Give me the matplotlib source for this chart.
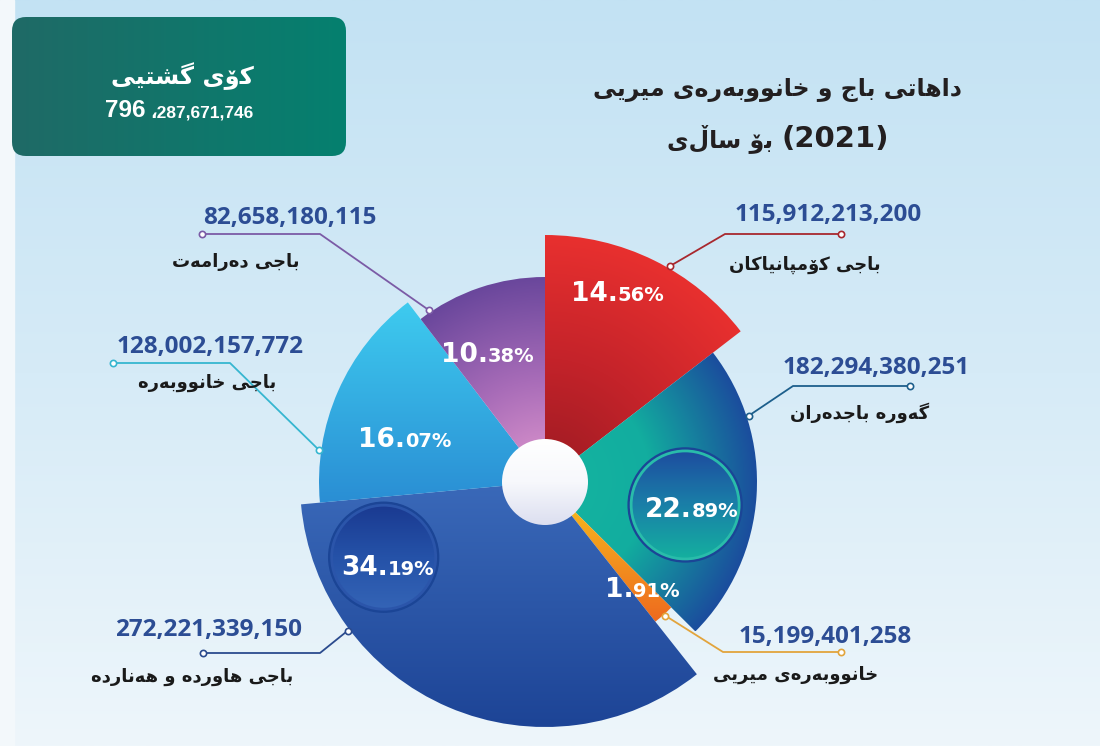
import numpy as np
import matplotlib
matplotlib.use("Agg")
import matplotlib.pyplot as plt
from matplotlib.colors import LinearSegmentedColormap
from matplotlib.patches import FancyBboxPatch, Circle, Rectangle

W, H = 1100, 746

# slices, clockwise from 12 o'clock
names = ["باجی کۆمپانیاکان", "گەورە باجدەران", "خانووبەرەی میریی",
         "باجی هاوردە و هەناردە", "باجی خانووبەرە", "باجی دەرامەت"]
values = [115912213200, 182294380251, 15199401258,
          272221339150, 128002157772, 82658180115]
title_lines = ["داهاتی باج و خانووبەرەی میریی", "بۆ ساڵی", "(2021)"]
total_title = "کۆی گشتیی"

total = sum(values)
percents = [v / total * 100 for v in values]

# --- minimal arabic shaping (matplotlib draws glyphs left to right, unjoined)
# isolated, final, initial, medial ; None -> letter never joins the next one
FORMS = {
    "ا": ("\uFE8D", "\uFE8E", None, None),
    "ب": ("\uFE8F", "\uFE90", "\uFE91", "\uFE92"),
    "پ": ("\uFB56", "\uFB57", "\uFB58", "\uFB59"),
    "ت": ("\uFE95", "\uFE96", "\uFE97", "\uFE98"),
    "ج": ("\uFE9D", "\uFE9E", "\uFE9F", "\uFEA0"),
    "خ": ("\uFEA5", "\uFEA6", "\uFEA7", "\uFEA8"),
    "د": ("\uFEA9", "\uFEAA", None, None),
    "ر": ("\uFEAD", "\uFEAE", None, None),
    "س": ("\uFEB1", "\uFEB2", "\uFEB3", "\uFEB4"),
    "ش": ("\uFEB5", "\uFEB6", "\uFEB7", "\uFEB8"),
    "ک": ("\u06A9", "\u06A9", "\uFEDB", "\uFEDC"),
    "گ": ("\u06AF", "\u06AF", "\uFB94", "\uFB95"),
    "م": ("\uFEE1", "\uFEE2", "\uFEE3", "\uFEE4"),
    "ن": ("\uFEE5", "\uFEE6", "\uFEE7", "\uFEE8"),
    "ه": ("\uFEE9", "\uFEEA", "\uFEEB", "\uFEEC"),
    "و": ("\uFEED", "\uFEEE", None, None),
    "ۆ": ("\u06C6", "\u06C6", None, None),
    "ە": ("\u06D5", "\uFEEA", None, None),
    "ی": ("\uFEEF", "\uFEF0", "\uFEF3", "\uFEF4"),
}


def shape_word(word):
    out = []
    for i, ch in enumerate(word):
        forms = FORMS.get(ch)
        if forms is None:
            out.append(ch)
            continue
        prev = word[i - 1] if i > 0 else None
        nxt = word[i + 1] if i + 1 < len(word) else None
        joins_prev = prev in FORMS and FORMS[prev][2] is not None
        joins_next = forms[2] is not None and nxt in FORMS
        if joins_prev and joins_next:
            out.append(forms[3])
        elif joins_prev:
            out.append(forms[1])
        elif joins_next:
            out.append(forms[2])
        else:
            out.append(forms[0])
    return "".join(reversed(out))


def rtl(text):
    words = [shape_word(w) if any(c in FORMS for c in w) else w
             for w in text.split(" ")]
    return " ".join(reversed(words))


def grad_fill(ax, patch, colors, mode, center=None, radius=None, z=2):
    if patch.axes is None:
        ax.add_patch(patch)
    patch.set_facecolor("none")
    patch.set_edgecolor("none")
    ext = patch.get_path().transformed(patch.get_patch_transform()).get_extents()
    x0, y0, x1, y1 = ext.x0, ext.y0, ext.x1, ext.y1
    X, Y = np.meshgrid(np.linspace(x0, x1, 300), np.linspace(y0, y1, 300))
    if mode == "vertical":
        t = (y1 - Y) / (y1 - y0)
    elif mode == "horizontal":
        t = (X - x0) / (x1 - x0)
    else:
        t = np.hypot(X - center[0], Y - center[1]) / radius
    cmap = LinearSegmentedColormap.from_list("g", colors)
    im = ax.imshow(np.clip(t, 0, 1), cmap=cmap, vmin=0, vmax=1,
                   extent=(x0, x1, y0, y1), origin="lower", aspect="auto",
                   interpolation="bilinear", zorder=z)
    im.set_clip_path(patch)


def pair_text(ax, renderer, x, y, left, right, kw_left, kw_right):
    # two texts sharing a baseline, centred together on x
    t1 = ax.text(x, y, left, ha="right", va="baseline", **kw_left)
    t2 = ax.text(x, y, right, ha="left", va="baseline", **kw_right)
    wl = t1.get_window_extent(renderer).width
    wr = t2.get_window_extent(renderer).width
    j = x + (wl - wr) / 2
    t1.set_x(j)
    t2.set_x(j)


fig = plt.figure(figsize=(11, 7.46), dpi=100)
ax = fig.add_axes([0, 0, 1, 1])
ax.set_axis_off()
renderer = fig.canvas.get_renderer()

# background
bg = np.linspace(0, 1, 256)[:, None]
ax.imshow(bg, cmap=LinearSegmentedColormap.from_list("bg", ["#eef6fb", "#d6ebf7", "#c3e2f3"]),
          extent=(0, W, 0, H), origin="lower", aspect="auto", zorder=0)
ax.add_patch(Rectangle((0, 0), 14, H, color="#f3f8fb", zorder=0.5))

# total box
box = FancyBboxPatch((12, H - 156), 334, 139, boxstyle="round,pad=0,rounding_size=14")
grad_fill(ax, box, ["#1f6a66", "#05806f"], "horizontal", z=1)
ax.text(182, H - 76, rtl(total_title), color="white", fontsize=17.5,
        fontweight="bold", family="DejaVu Sans", ha="center", va="center", zorder=3)
head, rest = f"{total:,}".split(",", 1)
ax.text(146, H - 117, head, color="white", fontsize=17.5, fontweight="bold",
        family="Liberation Sans", ha="right", va="baseline", zorder=3)
ax.text(150, H - 117, "،" + rest, color="white", fontsize=12.5, fontweight="bold",
        family=["Liberation Sans", "DejaVu Sans"], ha="left", va="baseline", zorder=3)

# title
ax.text(777, H - 90, rtl(title_lines[0]), color="#231f20", fontsize=17,
        fontweight="bold", family="DejaVu Sans", ha="center", va="center")
pair_text(ax, renderer, 778, H - 147, rtl(title_lines[1]) + " ", title_lines[2],
          dict(color="#231f20", fontsize=17, fontweight="bold", family="DejaVu Sans"),
          dict(color="#231f20", fontsize=21, fontweight="bold", family="DejaVu Sans"))

# pie
CX, CY = 545, H - 482
radii = [247, 212, 178, 245, 226, 205]
fills = [
    (["#9a1a22", "#c4232a", "#e8302f"], "radial"),
    (["#15b5a0", "#12ad9f", "#1b4d9d"], "radial"),
    (["#f8c51d", "#ee6a1f"], "vertical"),
    (["#3a69b9", "#1d4496"], "vertical"),
    (["#3ecbef", "#2a8ed4"], "vertical"),
    (["#e39ad0", "#a86cb8", "#6a479c"], "radial"),
]
wedges, _ = ax.pie(values, startangle=90, counterclock=False, center=(CX, CY),
                   radius=1, wedgeprops=dict(linewidth=0))
for w, r, (cols, mode) in zip(wedges, radii, fills):
    w.set_radius(r)
    grad_fill(ax, w, cols, mode, center=(CX, CY), radius=r, z=2)

# badges behind two of the labels (angle, distance, size)
badges = [(-9.3, 142, 54, ["#1d4c9f", "#1a7fa8", "#14b09f"], "#29bcaa"),
          (-155, 178, 52, ["#1a3a91", "#2552a8", "#3464b6"], "#2b55aa")]
for ang, dist, rb, cols, ring in badges:
    bx = CX + dist * np.cos(np.radians(ang))
    by = CY + dist * np.sin(np.radians(ang))
    ax.add_patch(Circle((bx, by), rb + 3, color="#1b4596", zorder=3))
    inner = Circle((bx, by), rb)
    grad_fill(ax, inner, cols, "vertical", z=3.1)
    ax.add_patch(Circle((bx, by), rb, fill=False, ec=ring, lw=2, zorder=3.2))

# centre disc
disc = Circle((CX, CY), 43)
grad_fill(ax, disc, ["#ffffff", "#f7f8fc", "#dcdff0"], "vertical", z=4)

# percent labels
label_pos = [(69, 203), (-10, 149), (-47.5, 144), (-152, 178), (162.6, 147), (114, 141)]
for p, (ang, dist) in zip(percents, label_pos):
    lx = CX + dist * np.cos(np.radians(ang))
    ly = CY + dist * np.sin(np.radians(ang)) - 9
    big, small = f"{p:.2f}".split(".")
    pair_text(ax, renderer, lx, ly, big + ".", small + "%",
              dict(color="white", fontsize=19, fontweight="bold", family="DejaVu Sans", zorder=6),
              dict(color="white", fontsize=14, fontweight="bold", family="DejaVu Sans", zorder=6))

# connectors and labels (image pixel coords)
line_colors = ["#a8282e", "#1d5f8c", "#e2a43c", "#2b4b8e", "#36b6d0", "#7b5ba6"]
dots = [(841, 234), (910, 386), (841, 652), (203, 653), (113, 363), (202, 234)]
elbows = [(725, 234), (793, 386), (723, 652), (320, 653), (230, 363), (320, 234)]
attach = [60, 18, -48, -143, 172, 124]
value_pos = [(828, 215), (876, 368), (825, 637), (209, 630), (210, 347), (290, 218)]
name_pos = [(805, 265), (860, 413), (796, 675), (192, 677), (207, 383), (236, 262)]

for i in range(len(values)):
    col = line_colors[i]
    r = radii[i] + 2
    axx = CX + r * np.cos(np.radians(attach[i]))
    axy = CY + r * np.sin(np.radians(attach[i]))
    ax.plot([dots[i][0], elbows[i][0], axx], [H - dots[i][1], H - elbows[i][1], axy],
            color=col, lw=1.3, zorder=5, solid_capstyle="round")
    ax.plot([dots[i][0], axx], [H - dots[i][1], axy], "o", ms=4.5, mfc="white",
            mec=col, mew=1.2, zorder=5.5)
    ax.text(value_pos[i][0], H - value_pos[i][1], f"{values[i]:,}", color="#2c4d94",
            fontsize=17.5, fontweight="bold", family="Open Sans",
            ha="center", va="center", zorder=6)
    ax.text(name_pos[i][0], H - name_pos[i][1], rtl(names[i]), color="#1a1a1a",
            fontsize=13, fontweight="bold", family="DejaVu Sans",
            ha="center", va="center", zorder=6)

ax.set_xlim(0, W)
ax.set_ylim(0, H)
fig.savefig("out.png", dpi=100)
